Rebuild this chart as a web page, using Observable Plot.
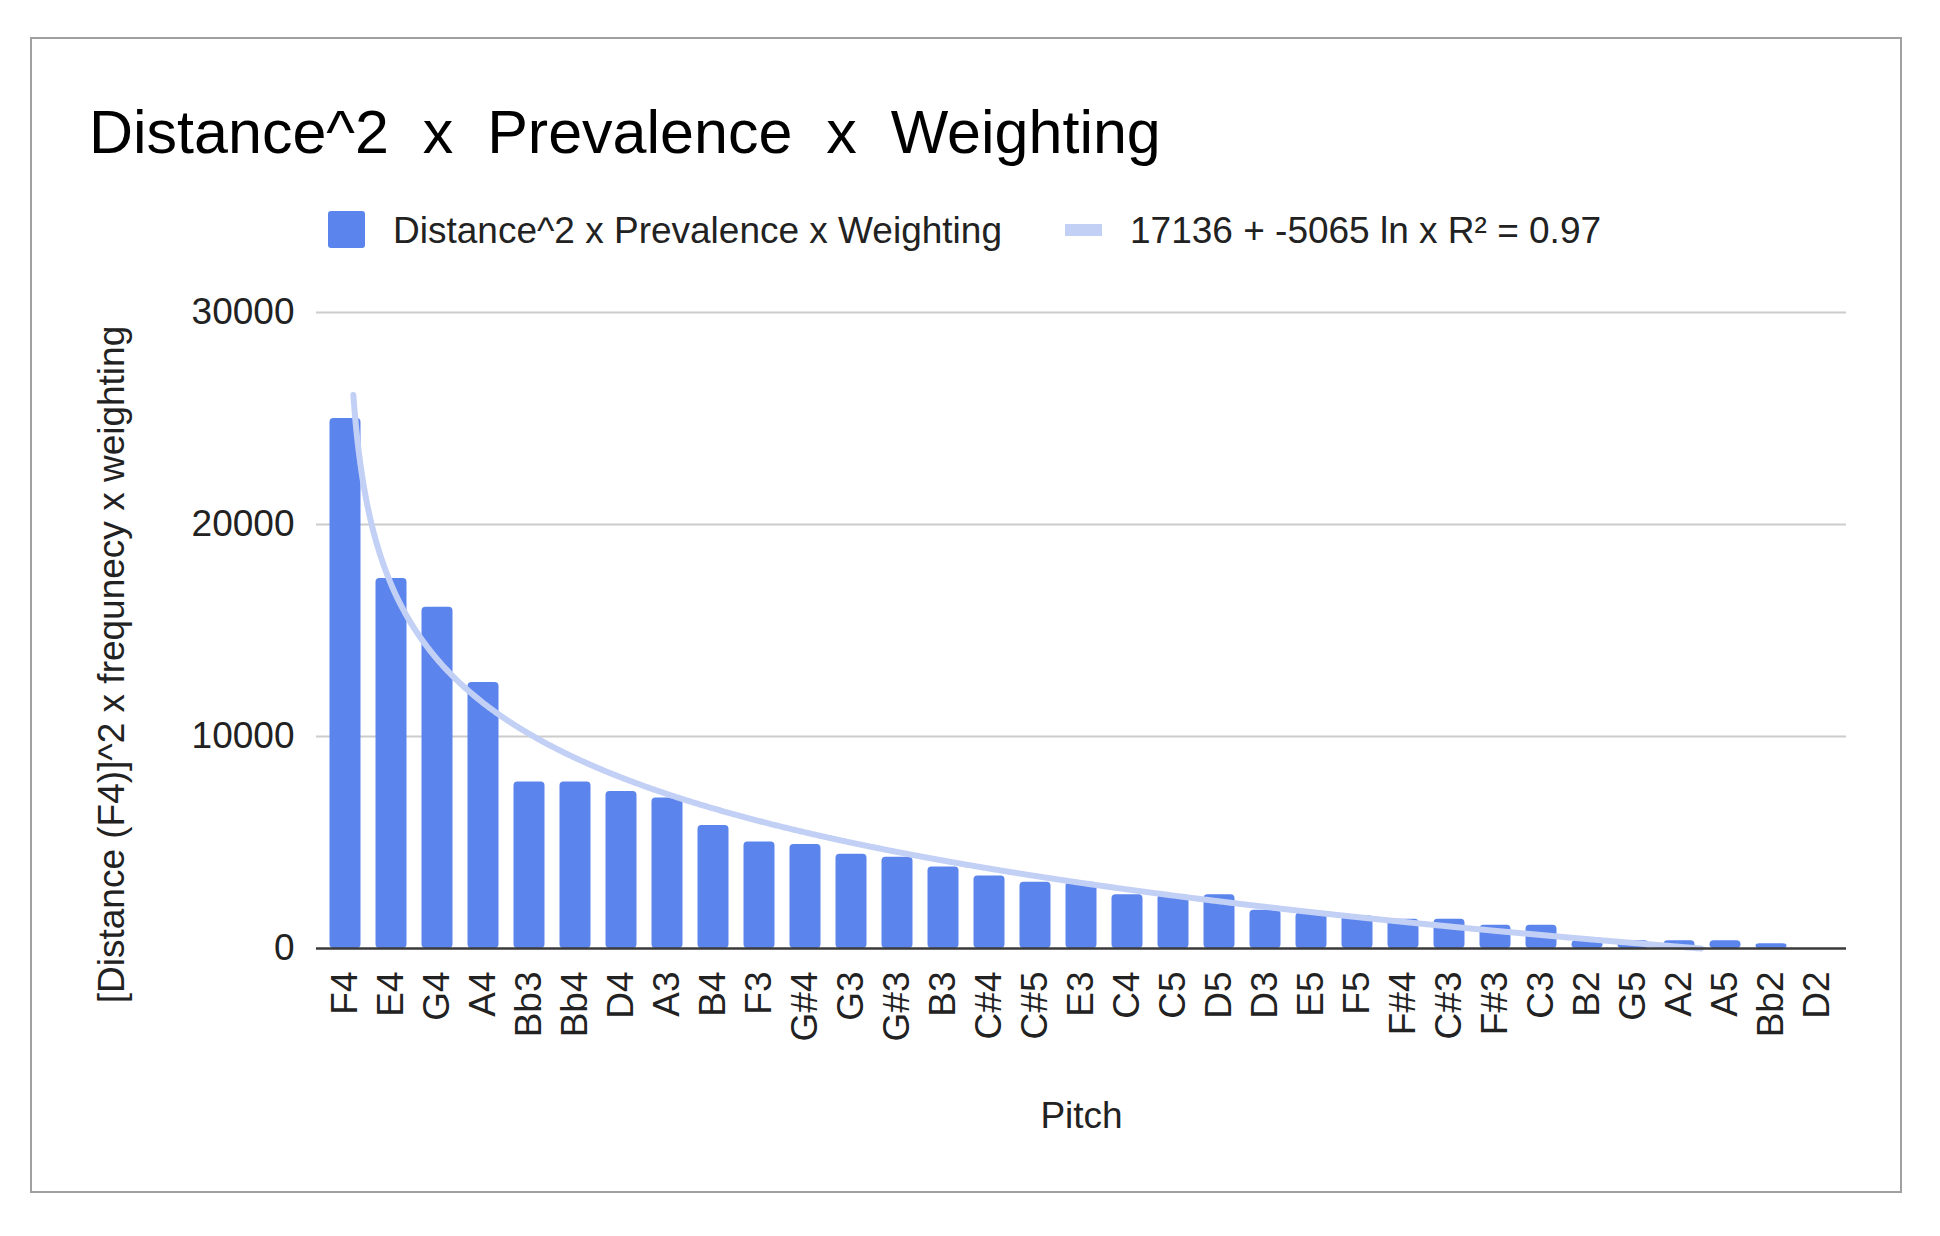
<!DOCTYPE html>
<html>
<head>
<meta charset="utf-8">
<script src="https://cdn.jsdelivr.net/npm/d3@7"></script>
<script src="https://cdn.jsdelivr.net/npm/@observablehq/plot@0.6"></script>
<style>
  html, body { margin: 0; padding: 0; background: #fff; }
  body { width: 1940px; height: 1236px; position: relative; overflow: hidden;
         font-family: "Liberation Sans", Arial, sans-serif; color: #1a1a1a; }
  #frame { position: absolute; left: 30px; top: 37px; width: 1872px; height: 1156px;
           border: 2px solid #a0a0a0; box-sizing: border-box; }
  #title { position: absolute; left: 89px; top: 102px; font-size: 61px; line-height: 61px;
           white-space: pre; color: #000; }
  .sw { position: absolute; }
  .lt { position: absolute; font-size: 37px; line-height: 37px; white-space: pre; color: #222; top: 212px; }
  #chart { position: absolute; left: 0; top: 280px; }
</style>
</head>
<body>
<div id="frame"></div>
<div id="title"></div>
<div class="sw" id="sw1" style="left:328px; top:211px; width:37px; height:37px; border-radius:3px;"></div>
<div class="lt" id="lt1" style="left:393px;"></div>
<div class="sw" id="sw2" style="left:1065px; top:224px; width:37px; height:12px;"></div>
<div class="lt" id="lt2" style="left:1130px;"></div>
<div id="chart"></div>
<script>
// ---- data ----
const pitches = ["F4","E4","G4","A4","Bb3","Bb4","D4","A3","B4","F3","G#4","G3","G#3","B3","C#4","C#5","E3","C4","C5","D5","D3","E5","F5","F#4","C#3","F#3","C3","B2","G5","A2","A5","Bb2","D2"];
const values  = [25000,17450,16100,12550,7850,7850,7400,7100,5800,5020,4900,4450,4300,3850,3420,3120,3120,2540,2540,2540,1800,1670,1540,1380,1380,1100,1100,360,360,360,360,220,0];
const yTicks = [0, 10000, 20000, 30000];
// trendline from the legend: 17136 + -5065 ln x (x = 0-based category position)
const trendA = 17136;
const trendB = -5065;
const trendStart = 0.17;

const titleText = "Distance^2  x  Prevalence  x  Weighting";
const seriesName = "Distance^2 x Prevalence x Weighting";
const trendName = "17136 + -5065 ln x R\u00b2 = 0.97";
const yTitle = "[Distance (F4)]^2 x frequnecy x weighting";
const xTitle = "Pitch";

const barColor = "#5b84ed";
const trendColor = "#c3d0f6";

document.getElementById("title").textContent = titleText;
document.getElementById("lt1").textContent = seriesName;
document.getElementById("lt2").textContent = trendName;
document.getElementById("sw1").style.background = barColor;
document.getElementById("sw2").style.background = trendColor;

const data = pitches.map((p, i) => ({pitch: p, i, value: values[i]}));
const idx = pitches.map((_, i) => i);

const trendEnd = Math.exp(-trendA / trendB);
const trend = d3.range(trendStart, trendEnd, 0.02).concat([trendEnd])
  .map(x => ({x, y: Math.max(0, trendA + trendB * Math.log(x))}));

const chart = Plot.plot({
  width: 1940,
  height: 900,
  marginLeft: 316,
  marginRight: 94,
  marginTop: 32,
  marginBottom: 232,
  style: {fontFamily: "'Liberation Sans', Arial, sans-serif", fontSize: "37px", color: "#222", background: "transparent", overflow: "visible"},
  x: {
    domain: [-0.5, pitches.length - 0.5],
    insetLeft: 6, insetRight: 6,
    ticks: idx,
    tickFormat: i => pitches[i],
    tickRotate: -90,
    tickSize: 0,
    tickPadding: 23,
    label: null
  },
  y: {
    domain: [0, 30000],
    ticks: yTicks,
    tickFormat: d => String(d),
    tickSize: 0,
    tickPadding: 22,
    label: null
  },
  marks: [
    Plot.ruleY(yTicks.filter(d => d > 0), {stroke: "#cccccc", strokeWidth: 2}),
    Plot.rectY(data, {x1: d => d.i - 0.5, x2: d => d.i + 0.5, y: "value", fill: barColor, insetLeft: 7.5, insetRight: 7.5, rx: 4}),
    Plot.line(trend, {x: "x", y: "y", stroke: trendColor, strokeWidth: 6, curve: "linear"}),
    Plot.ruleY([0], {stroke: "#3a3a3a", strokeWidth: 2.5}),
    Plot.text([yTitle], {text: d => d, frameAnchor: "left", textAnchor: "middle", lineAnchor: "middle", rotate: -90, dx: -204, dy: 34, fontSize: 37, fill: "#222"}),
    Plot.text([xTitle], {text: d => d, frameAnchor: "bottom", textAnchor: "middle", lineAnchor: "middle", dy: 168, fontSize: 37, fill: "#222"})
  ]
});
document.getElementById("chart").appendChild(chart);
</script>
</body>
</html>
